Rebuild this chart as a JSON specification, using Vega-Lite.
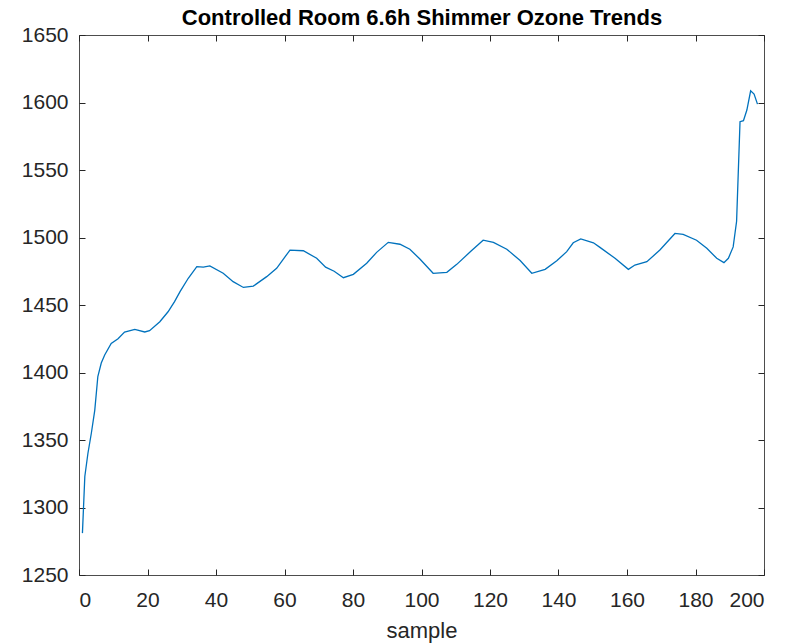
{
  "$schema": "https://vega.github.io/schema/vega-lite/v6.json",
  "width": 685,
  "height": 540,
  "autosize": {"type": "none"},
  "padding": {"left": 79, "top": 35, "right": 22, "bottom": 69},
  "background": "white",
  "config": {
    "view": {"stroke": "#4d4d4d", "strokeWidth": 1},
    "axis": {"labelFont": "Liberation Sans", "titleFont": "Liberation Sans", "labelFontSize": 21, "titleFontSize": 22, "labelColor": "#262626", "titleColor": "#262626", "titleFontWeight": "normal", "grid": false, "domain": false, "format": "d", "ticks": true, "tickSize": 6, "tickWidth": 1, "tickColor": "#262626", "offset": -6}
  },
  "data": {"values": [
    {"sample": 1, "ozone": 1281},
    {"sample": 1.7, "ozone": 1323},
    {"sample": 2.6, "ozone": 1340},
    {"sample": 3.6, "ozone": 1355},
    {"sample": 4.6, "ozone": 1372},
    {"sample": 5.5, "ozone": 1397},
    {"sample": 6.5, "ozone": 1407},
    {"sample": 7.5, "ozone": 1413},
    {"sample": 9.4, "ozone": 1421.6},
    {"sample": 11.4, "ozone": 1425},
    {"sample": 13.3, "ozone": 1430},
    {"sample": 16.3, "ozone": 1432},
    {"sample": 19.2, "ozone": 1430},
    {"sample": 20.6, "ozone": 1431},
    {"sample": 23.6, "ozone": 1437.6},
    {"sample": 26, "ozone": 1445},
    {"sample": 27.9, "ozone": 1452.5},
    {"sample": 29.5, "ozone": 1459.9},
    {"sample": 31.9, "ozone": 1469.8},
    {"sample": 34.4, "ozone": 1478.4},
    {"sample": 36.3, "ozone": 1478},
    {"sample": 38.2, "ozone": 1478.9},
    {"sample": 42.1, "ozone": 1473.5},
    {"sample": 45, "ozone": 1467.3},
    {"sample": 48, "ozone": 1463},
    {"sample": 50.9, "ozone": 1464},
    {"sample": 54.8, "ozone": 1471},
    {"sample": 57.7, "ozone": 1477.2},
    {"sample": 61.6, "ozone": 1490.7},
    {"sample": 65.5, "ozone": 1490.2},
    {"sample": 69.4, "ozone": 1484.6},
    {"sample": 72, "ozone": 1478},
    {"sample": 74.5, "ozone": 1475},
    {"sample": 77.2, "ozone": 1470.2},
    {"sample": 80.1, "ozone": 1472.7},
    {"sample": 84, "ozone": 1480.9},
    {"sample": 86.9, "ozone": 1489},
    {"sample": 90.3, "ozone": 1496.4},
    {"sample": 93.7, "ozone": 1495},
    {"sample": 96.6, "ozone": 1491.3},
    {"sample": 99.6, "ozone": 1483.9},
    {"sample": 103.4, "ozone": 1473.5},
    {"sample": 107.4, "ozone": 1474.2},
    {"sample": 110.3, "ozone": 1480.1},
    {"sample": 114.4, "ozone": 1489.8},
    {"sample": 118, "ozone": 1498},
    {"sample": 121, "ozone": 1496.4},
    {"sample": 124.9, "ozone": 1491.3},
    {"sample": 128.8, "ozone": 1483},
    {"sample": 132.2, "ozone": 1473.5},
    {"sample": 136.1, "ozone": 1476.4},
    {"sample": 139.5, "ozone": 1482.8},
    {"sample": 142.4, "ozone": 1489.5},
    {"sample": 144.3, "ozone": 1496.1},
    {"sample": 146.5, "ozone": 1498.9},
    {"sample": 150.2, "ozone": 1496.1},
    {"sample": 152.1, "ozone": 1492.7},
    {"sample": 156.5, "ozone": 1484.6},
    {"sample": 160.4, "ozone": 1476.4},
    {"sample": 162.3, "ozone": 1479.6},
    {"sample": 165.8, "ozone": 1482.1},
    {"sample": 169.6, "ozone": 1490.7},
    {"sample": 174, "ozone": 1503},
    {"sample": 176.4, "ozone": 1502.3},
    {"sample": 180.3, "ozone": 1498},
    {"sample": 183.3, "ozone": 1492},
    {"sample": 186.2, "ozone": 1484.6},
    {"sample": 188.3, "ozone": 1481.4},
    {"sample": 189.6, "ozone": 1484.6},
    {"sample": 191, "ozone": 1493},
    {"sample": 192, "ozone": 1512},
    {"sample": 193, "ozone": 1585.8},
    {"sample": 194, "ozone": 1586.5},
    {"sample": 195, "ozone": 1594.4},
    {"sample": 196.1, "ozone": 1608.7},
    {"sample": 197.1, "ozone": 1606.3},
    {"sample": 198.1, "ozone": 1598.8}
  ]},
  "layer": [
    {
      "mark": {"type": "line", "color": "#0072BD", "strokeWidth": 1.3, "clip": true},
      "encoding": {
        "x": {"field": "sample", "type": "quantitative", "scale": {"domain": [0, 200], "nice": false, "zero": false}, "axis": {"orient": "bottom", "title": "sample", "values": [0, 20, 40, 60, 80, 100, 120, 140, 160, 180, 200], "labelPadding": 14, "titlePadding": 10}},
        "y": {"field": "ozone", "type": "quantitative", "scale": {"domain": [1250, 1650], "nice": false, "zero": false}, "axis": {"orient": "left", "title": null, "values": [1250, 1300, 1350, 1400, 1450, 1500, 1550, 1600, 1650], "labelPadding": 11}}
      }
    },
    {
      "mark": {"type": "line", "opacity": 0},
      "encoding": {
        "x": {"field": "sample", "type": "quantitative", "scale": {"domain": [0, 200], "nice": false, "zero": false}, "axis": {"orient": "top", "title": "Controlled Room 6.6h Shimmer Ozone Trends", "titleFontWeight": "bold", "titleColor": "#000000", "titleFontSize": 22, "titlePadding": 5, "labels": false, "values": [0, 20, 40, 60, 80, 100, 120, 140, 160, 180, 200]}},
        "y": {"field": "ozone", "type": "quantitative", "scale": {"domain": [1250, 1650], "nice": false, "zero": false}, "axis": {"orient": "right", "title": null, "labels": false, "values": [1250, 1300, 1350, 1400, 1450, 1500, 1550, 1600, 1650]}}
      }
    }
  ],
  "resolve": {"axis": {"x": "independent", "y": "independent"}}
}
